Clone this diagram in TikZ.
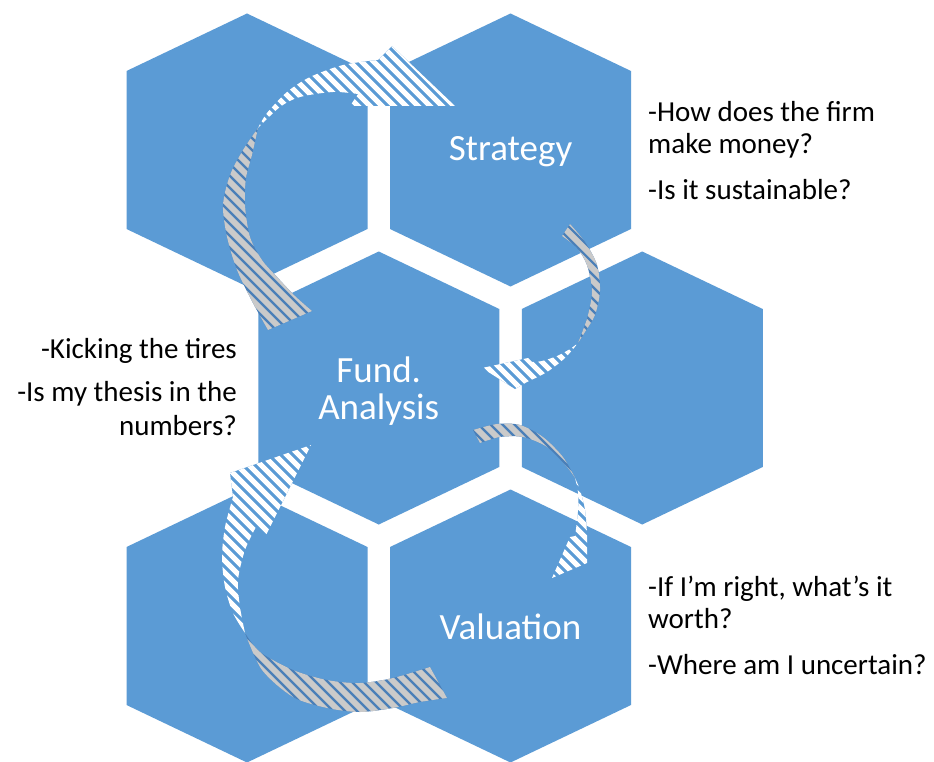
\documentclass[tikz,border=0pt]{standalone}
\usepackage{fontspec}
\setmainfont{Carlito}
\usepackage{xcolor}
\definecolor{Office Blue}{HTML}{5B9BD5}
\definecolor{Deep Blue}{HTML}{4A7FB8}
\definecolor{Ash}{HTML}{CACACA}
\colorlet{cHex}{Office Blue}
\colorlet{cBack}{Deep Blue}
\colorlet{cAsh}{Ash}
\usetikzlibrary{calc}
\tikzset{
	hex/.style={fill=cHex},
	cell label/.style={
		text=white,
		font=\fontsize{37}{37}\selectfont,
		align=center,
		inner sep=0pt
	},
	note/.style={
		font=\fontsize{29}{32}\selectfont,
		anchor=north west,
		align=left,
		inner sep=0pt
	},
	back stripe/.style={draw=cAsh, line width=6pt},
	front stripe/.style={draw=white, line width=5pt}
}
% one cell of the honeycomb, centred on a named coordinate
\newcommand{\hexcell}[1]{%
	\fill[hex] (#1) ++(0,-136.5) -- ++(120.5,57.5) -- ++(0,158) -- ++(-120.5,57.5) -- ++(-120.5,-57.5) -- ++(0,-158) -- cycle;}
% striped piece of a ribbon arrow: #1 ground, #2 stripe style, #3 outline
\newcommand{\ribbon}[3]{%
	\begin{scope}
		\clip #3;
		\fill[#1] (0,0) rectangle (934,762);
		\foreach \k in {-67,...,78} {\draw[#2] (\k*12,0) -- ++(800,800);}
	\end{scope}}

\begin{document}
\begin{tikzpicture}[x=1pt, y=-1pt]
\useasboundingbox (0,0) rectangle (934,762);
\fill[white] (0,0) rectangle (934,762);
% ---
% honeycomb
% ---
\coordinate (hex-tl) at (247,150);
\coordinate (hex-tr) at ($(hex-tl)+(263.5,0)$);
\coordinate (hex-m) at ($(hex-tl)+(131.75,238)$);
\coordinate (hex-mr) at ($(hex-m)+(263.5,0)$);
\coordinate (hex-bl) at ($(hex-tl)+(0,476)$);
\coordinate (hex-br) at ($(hex-tr)+(0,476)$);
\foreach \c in {hex-tl,hex-tr,hex-m,hex-mr,hex-bl,hex-br} {\hexcell{\c}}

\node[cell label] (strategy) at ($(hex-tr)+(0,2)$) {Strategy};
\node[cell label] (fund) at ($(hex-m)+(0,3)$) {Fund.\\Analysis};
\node[cell label] (valuation) at ($(hex-br)+(0,1)$) {Valuation};

% ---
% notes
% ---
\node[note] (strategy-note) at (648,101) {-How does the firm\\make money?\\[14pt]-Is it sustainable?};
\node[note, anchor=north east, align=right] (fund-note) at (237,338) {-Kicking the tires\\[11pt]-Is my thesis in the\\[2pt]numbers?};
\node[note] (valuation-note) at (648,576) {-If I’m right, what’s it\\worth?\\[14pt]-Where am I uncertain?};

% ---
% ribbons: fund -> strategy
% ---
\ribbon{cBack}{back stripe}{(312,311) -- (268,330)
	-- plot[smooth] coordinates {(268,330) (253,303) (237,270) (227,237) (223,205) (230,175) (243,150) (258,128)}
	-- plot[smooth] coordinates {(258,128) (252,155) (246,178) (245,205) (250,237) (262,260) (277,277) (295,296) (312,311)}
	-- cycle}
\ribbon{cHex}{front stripe}{(258,128)
	-- plot[smooth] coordinates {(258,128) (267,113) (287,92) (310,77) (343,65) (378,60)}
	-- (392,46) -- (455,106) -- (350,106) -- (358,94)
	-- plot[smooth] coordinates {(358,94) (333,92) (300,97) (280,107) (258,128)}
	-- cycle}
% strategy -> fund
\ribbon{cBack}{back stripe}{(570,224) -- (562,236)
	-- plot[smooth] coordinates {(562,236) (577,248) (587,265) (592,291) (588,315) (583,330) (578,343)}
	-- plot[smooth] coordinates {(578,343) (585,332) (595,315) (600,291) (597,265) (585,242) (570,224)}
	-- cycle}
\ribbon{cHex}{front stripe}{(578,343)
	-- plot[smooth] coordinates {(578,343) (570,349) (557,356) (542,361) (532,362)}
	-- (528,358) -- (482,368) -- (515,389) -- (527,382)
	-- plot[smooth] coordinates {(527,382) (547,372) (565,358) (578,343)}
	-- cycle}
% fund -> valuation
\ribbon{cBack}{back stripe}{(480,443) -- (473,430)
	-- plot[smooth] coordinates {(473,430) (497,424) (520,425) (543,437) (563,457) (575,478)}
	-- plot[smooth] coordinates {(575,478) (567,467) (547,447) (523,437) (500,437) (480,443)}
	-- cycle}
\ribbon{cHex}{front stripe}{(575,478)
	-- plot[smooth] coordinates {(575,478) (580,490) (585,510) (587,533)}
	-- (587,563) -- (552,578) -- (570,537) -- (575,536)
	-- plot[smooth] coordinates {(575,536) (578,512) (578,492) (575,478)}
	-- cycle}
% valuation -> fund
\ribbon{cBack}{back stripe}{(430,667) -- (447,698)
	-- plot[smooth] coordinates {(447,698) (420,702) (393,708) (360,712) (327,708) (293,697) (262,670) (245,633)}
	-- plot[smooth] coordinates {(245,633) (260,652) (293,670) (327,680) (360,683) (393,678) (430,667)}
	-- cycle}
\ribbon{cHex}{front stripe}{(245,633)
	-- plot[smooth] coordinates {(245,633) (233,613) (225,587) (222,557) (225,527) (233,497)}
	-- (230,473) -- (311,445) -- (265,537) -- (257,525)
	-- plot[smooth] coordinates {(257,525) (245,550) (238,580) (240,607) (245,633)}
	-- cycle}
\end{tikzpicture}
\end{document}
